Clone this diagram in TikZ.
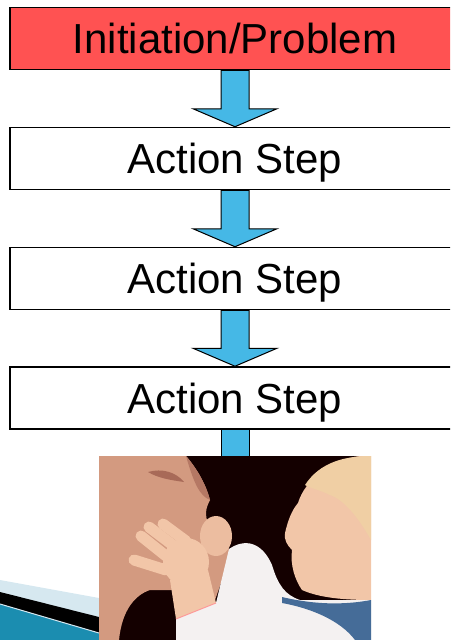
\documentclass[tikz,border=0pt]{standalone}
\usepackage{fontspec}
\setmainfont{Liberation Sans}
\usepackage{tikz}
\usetikzlibrary{calc}

\definecolor{probred}{HTML}{FF5252}
\definecolor{arrowblue}{HTML}{45B8E6}
\definecolor{swooshlight}{HTML}{D6E8F0}
\definecolor{swooshteal}{HTML}{1B8DB0}
\definecolor{manskin}{HTML}{D39A80}
\definecolor{manshade}{HTML}{A86A58}
\definecolor{babyskin}{HTML}{F2C6A8}
\definecolor{babyhair}{HTML}{F0CFA4}
\definecolor{babyshirt}{HTML}{F4F1F1}
\definecolor{bibblue}{HTML}{456C98}

\begin{document}
\begin{tikzpicture}[x=1pt, y=-1pt,
    stepbox/.style={draw=black, line width=1.5pt, fill=white, minimum width=450pt,
      minimum height=62pt, inner sep=0pt, text height=30pt, text depth=0pt,
      font=\fontsize{42}{42}\selectfont},
    blockarrow/.style={fill=arrowblue, draw=black, line width=1pt, line join=miter},
    finger/.style={babyskin, line width=11pt, line cap=round}]
    \useasboundingbox (0,0) rectangle (450,640);
    \clip (0,0) rectangle (450,640);

    % Template swoosh
    \fill[swooshlight] (0,580) -- (99,598) -- (99,640) -- (0,640) -- cycle;
    \fill[black] (0,592) -- (99,617) -- (99,640) -- (0,640) -- cycle;
    \fill[swooshteal] (0,604) -- (99,633) -- (99,640) -- (0,640) -- cycle;
    \draw[swooshlight, line width=1pt] (0,604) -- (99,633);

    % Steps
    \node[stepbox, fill=probred] (init) at (235,38.5) {Initiation/Problem};
    \node[stepbox] (stepA) at (235,158.5) {Action Step};
    \node[stepbox] (stepB) at (235,278.5) {Action Step};
    \node[stepbox] (stepC) at (235,398) {Action Step};

    % Photo
    \node[minimum width=272pt, minimum height=184pt, inner sep=0pt] (photo) at (235,548) {};

    % Arrows
    \foreach \a/\b in {init/stepA, stepA/stepB, stepB/stepC}
      \draw[blockarrow] ($(\a.south)+(-14,0)$) -- ($(\b.north)+(-14,-18)$)
        -- ($(\b.north)+(-42,-18)$) -- (\b.north) -- ($(\b.north)+(42,-18)$)
        -- ($(\b.north)+(14,-18)$) -- ($(\a.south)+(14,0)$) -- cycle;
    \draw[blockarrow] ($(stepC.south)+(-14,0)$) rectangle ($(photo.north)+(14,4)$);

    % Photo contents
    \begin{scope}
      \clip (photo.south west) rectangle (photo.north east);
      \fill[black!92!red] (photo.south west) rectangle (photo.north east);
      % father
      \fill[manskin] (99,456) -- (186,456) .. controls (198,470) and (206,485) .. (210,500)
        .. controls (206,508) and (204,514) .. (209,526) -- (232,552) -- (215,600)
        -- (175,590) -- (150,590) .. controls (135,595) and (122,610) .. (119,640)
        -- (99,640) -- cycle;
      \fill[manshade] (148,472) .. controls (162,468) and (176,472) .. (184,482)
        .. controls (170,480) and (158,478) .. (148,472) -- cycle;
      \fill[manshade!70!manskin] (186,456) .. controls (198,470) and (206,485) .. (210,500)
        .. controls (200,496) and (194,484) .. (186,456) -- cycle;
      % baby fist at the mouth
      \fill[babyskin!80!manskin] (216,536) ellipse[x radius=16pt, y radius=20pt];
      % baby hand and arm
      \fill[babyskin] (170,580) -- (208,570) -- (216,603) -- (176,619) -- cycle;
      \fill[babyskin] (186,562) ellipse[x radius=23pt, y radius=24pt];
      \draw[finger] (166,570) -- (134,560);
      \draw[finger] (166,556) -- (141,536);
      \draw[finger] (174,546) -- (149,527);
      \draw[finger] (186,541) -- (163,524);
      % baby clothing
      \fill[babyshirt] (176,619) -- (216,603) -- (229,549)
        .. controls (245,538) and (262,542) .. (272,565)
        .. controls (278,585) and (285,595) .. (300,600) -- (371,600) -- (371,640)
        -- (176,640) -- cycle;
      \draw[pink!80!red, line width=1pt] (176,619) -- (216,603);
      % baby head
      \fill[babyskin] (285,533) .. controls (288,520) and (292,510) .. (298,503)
        .. controls (305,480) and (330,460) .. (360,456) -- (371,456) -- (371,600)
        .. controls (345,600) and (320,598) .. (302,590)
        .. controls (295,580) and (290,565) .. (292,550)
        .. controls (287,545) and (284,540) .. (285,533) -- cycle;
      \fill[babyhair] (305,485) .. controls (320,462) and (345,456) .. (371,456)
        -- (371,540) .. controls (360,520) and (345,500) .. (330,495)
        .. controls (320,490) and (310,488) .. (305,485) -- cycle;
      % bib
      \fill[bibblue] (282,597) .. controls (320,606) and (350,604) .. (371,600)
        -- (371,640) -- (355,640) .. controls (340,620) and (310,608) .. (282,603) -- cycle;
    \end{scope}
\end{tikzpicture}
\end{document}
